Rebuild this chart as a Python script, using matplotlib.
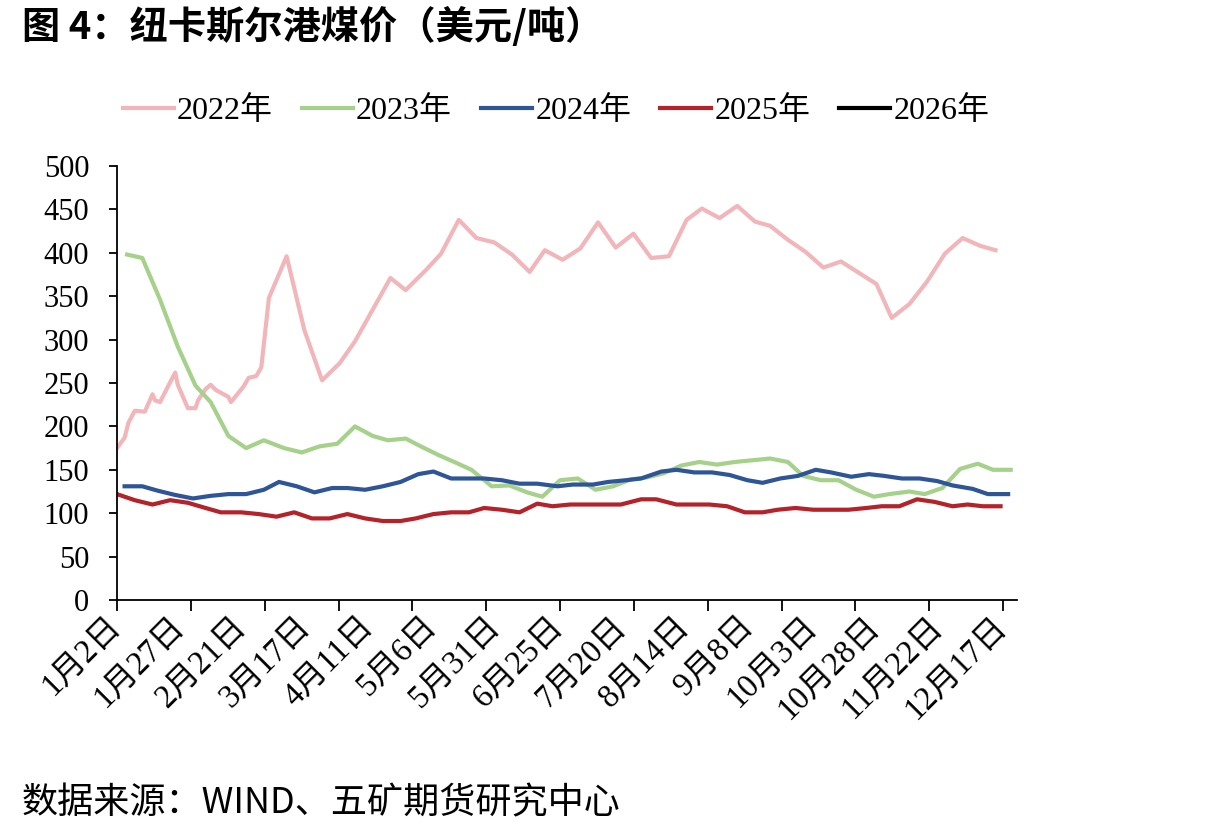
import matplotlib.pyplot as plt
import numpy as np
from matplotlib.transforms import ScaledTranslation

plt.rcParams['font.family'] = ['Liberation Serif', 'Noto Sans CJK SC', 'DejaVu Sans']

# x = days since 1月2日
d2022 = [0, 3, 4.5, 7, 11, 14, 15, 17, 21, 23, 24, 28, 31, 32, 35, 37, 39, 44, 45, 50,
         52, 55, 57, 60, 67, 74, 81, 88, 94, 108, 114, 122, 128, 135, 142, 149, 156, 163, 169, 176,
         183, 190, 197, 204, 211, 218, 225, 231, 238, 245, 252, 258, 265, 272, 279, 286, 293, 300, 306, 313,
         320, 327, 334, 341, 347]
v2022 = [175, 187, 204, 218, 217, 237, 230, 228, 251, 262, 248, 221, 221, 230, 243, 248, 242, 234, 228, 246,
         256, 258, 268, 348, 396, 311, 253, 273, 298, 371, 357, 380, 399, 438, 417, 412, 398, 378, 403, 392,
         405, 435, 406, 422, 394, 396, 438, 451, 440, 454, 436, 431, 415, 401, 383, 390, 377, 364, 325, 341,
         367, 399, 417, 408, 403]

d2023 = [4, 10, 17, 24, 31, 37, 44, 51, 58, 66, 73, 80, 87, 94, 101, 107, 114, 120, 127, 134,
         140, 148, 155, 162, 168, 175, 182, 189, 196, 203, 209, 216, 223, 230, 237, 244, 251, 258, 265, 271,
         278, 285, 292, 299, 305, 313, 319, 326, 333, 340, 346, 353]
v2023 = [398, 394, 346, 292, 247, 228, 189, 175, 184, 175, 170, 177, 180, 200, 189, 184, 186, 177, 167, 158,
         150, 131, 132, 124, 119, 138, 140, 127, 131, 139, 141, 146, 155, 159, 156, 159, 161, 163, 159, 143,
         138, 138, 127, 119, 122, 125, 122, 129, 151, 157, 150, 150]

d2024 = [3, 10, 16, 23, 30, 37, 44, 51, 58, 64, 71, 78, 85, 91, 98, 105, 112, 119, 125, 132,
         139, 145, 152, 159, 166, 174, 180, 188, 194, 201, 207, 215, 221, 228, 235, 242, 249, 255, 262, 269,
         276, 282, 290, 297, 303, 310, 317, 324, 330, 338, 344, 352]
v2024 = [131, 131, 126, 121, 117, 120, 122, 122, 127, 136, 131, 124, 129, 129, 127, 131, 136, 145, 148, 140,
         140, 140, 138, 134, 134, 131, 133, 133, 136, 138, 140, 148, 150, 147, 147, 144, 138, 135, 140, 143,
         150, 147, 142, 145, 143, 140, 140, 137, 132, 128, 122, 122]

d2025 = [0, 7, 14, 21, 28, 35, 41, 49, 56, 63, 70, 77, 84, 91, 98, 105, 112, 118, 125, 132,
         139, 145, 152, 159, 166, 172, 179, 186, 193, 199, 207, 213, 221, 227, 234, 241, 248, 255, 261, 268,
         275, 282, 289, 296, 302, 309, 316, 323, 330, 336, 342, 349]
v2025 = [122, 115, 110, 115, 112, 106, 101, 101, 99, 96, 101, 94, 94, 99, 94, 91, 91, 94, 99, 101,
         101, 106, 104, 101, 111, 108, 110, 110, 110, 110, 116, 116, 110, 110, 110, 108, 101, 101, 104, 106,
         104, 104, 104, 106, 108, 108, 116, 113, 108, 110, 108, 108]

d2026 = []
v2026 = []

label_days = [0, 25, 50, 75, 100, 125, 150, 175, 200, 225, 250, 275, 300, 325, 350]
label_text = ['1月2日', '1月27日', '2月21日', '3月17日', '4月11日', '5月6日', '5月31日', '6月25日',
              '7月20日', '8月14日', '9月8日', '10月3日', '10月28日', '11月22日', '12月17日']

fig = plt.figure(figsize=(12.17, 8.38), dpi=100)
ax = fig.add_axes([117 / 1217, 238 / 838, 900 / 1217, 434 / 838])

ax.plot(d2022, v2022, color='#F2B6BA', lw=3, label='2022年')
ax.plot(d2023, v2023, color='#A6D18A', lw=3, label='2023年')
ax.plot(d2024, v2024, color='#2E5597', lw=3, label='2024年')
ax.plot(d2025, v2025, color='#B4222A', lw=3, label='2025年')
ax.plot(d2026, v2026, color='black', lw=3, label='2026年')

ax.set_xlim(0, 355.5)
ax.set_ylim(0, 500)
ax.set_yticks(np.arange(0, 501, 50))
ax.tick_params(axis='y', labelsize=22, length=6, width=1.3, pad=14)

# tick marks and labels sit on different spacings in the source chart
ax.xaxis.remove_overlapping_locs = False
ax.set_xticks(np.linspace(0, 350, 13))
ax.set_xticklabels([])
ax.tick_params(axis='x', which='major', length=8, width=1.3)
ax.set_xticks(label_days, minor=True)
ax.set_xticklabels(label_text, minor=True, rotation=45, ha='right', va='top',
                   rotation_mode='anchor', fontsize=23.5)
ax.tick_params(axis='x', which='minor', length=0, pad=8)
shift = ScaledTranslation(-0.12, 0, fig.dpi_scale_trans)
for lab in ax.get_xticklabels(minor=True):
    lab.set_transform(lab.get_transform() + shift)

for s in ['top', 'right']:
    ax.spines[s].set_visible(False)
for s in ['left', 'bottom']:
    ax.spines[s].set_linewidth(1.3)

fig.legend(loc='center', bbox_to_anchor=(556 / 1217, 1 - 111 / 838), ncol=5, frameon=False,
           fontsize=23, handlelength=1.6, handletextpad=0.1, columnspacing=0.9)

fig.text(22 / 1217, 1 - 27 / 838, '图 4：纽卡斯尔港煤价（美元/吨）', fontsize=27.5, fontweight='bold',
         family=['Noto Sans CJK SC'], va='center', ha='left')
fig.text(22 / 1217, 1 - 803 / 838, '数据来源：WIND、五矿期货研究中心', fontsize=26,
         family=['Noto Sans CJK SC'], va='center', ha='left')

fig.savefig('out.png', dpi=100)
